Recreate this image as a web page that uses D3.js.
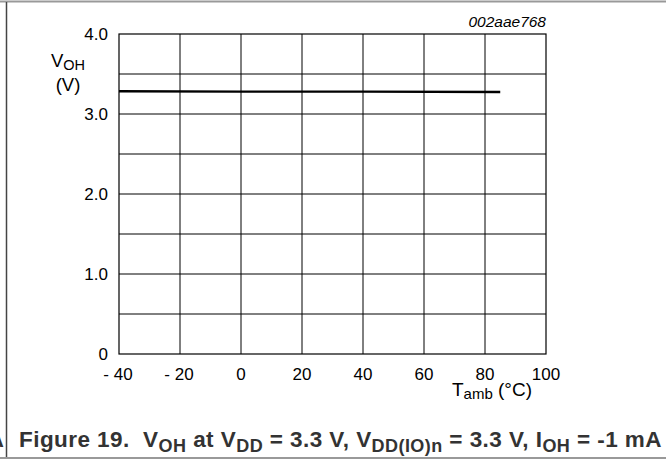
<!DOCTYPE html>
<html>
<head>
<meta charset="utf-8">
<script src="https://cdn.jsdelivr.net/npm/d3@7"></script>
<style>
  body { margin: 0; background: #fff; }
  svg { display: block; font-family: "Liberation Sans", Arial, sans-serif; }
</style>
</head>
<body>
<div id="chart"></div>
<script>
// curve: T_amb (deg C) vs V_OH (V)
var temps = [-40, 0, 40, 85];
var voh = [3.285, 3.28, 3.28, 3.275];
var xTicks = [-40, -20, 0, 20, 40, 60, 80, 100];
var yTicks = [0, 1.0, 2.0, 3.0, 4.0];
var yGrid = [0.5, 1.0, 1.5, 2.0, 2.5, 3.0, 3.5];

var width = 666, height = 460;
var pl = 119, pt = 34, pr = 546, pb = 354;

var svg = d3.select("#chart").append("svg")
    .attr("width", width)
    .attr("height", height);

var x = d3.scaleLinear().domain([-40, 100]).range([pl, pr]);
var y = d3.scaleLinear().domain([0, 4]).range([pb, pt]);

// page frame
svg.append("line").attr("x1", 0).attr("x2", width).attr("y1", 1.5).attr("y2", 1.5)
    .attr("stroke", "#999").attr("stroke-width", 2);
svg.append("line").attr("x1", 0).attr("x2", width).attr("y1", 458).attr("y2", 458)
    .attr("stroke", "#999").attr("stroke-width", 2);
svg.append("line").attr("x1", 6.5).attr("x2", 6.5).attr("y1", 2).attr("y2", 457)
    .attr("stroke", "#444").attr("stroke-width", 1.5);
svg.append("text").attr("x", -12).attr("y", 447)
    .attr("font-size", 22).attr("font-weight", "bold").attr("fill", "#333").text("A");

// grid
var g = svg.append("g");
g.selectAll(".vg").data(xTicks.slice(1, -1)).enter().append("line")
    .attr("x1", d => x(d)).attr("x2", d => x(d))
    .attr("y1", pt).attr("y2", pb)
    .attr("stroke", "#000").attr("stroke-width", 1);
g.selectAll(".hg").data(yGrid).enter().append("line")
    .attr("x1", pl).attr("x2", pr)
    .attr("y1", d => y(d)).attr("y2", d => y(d))
    .attr("stroke", "#000").attr("stroke-width", 1);
g.append("rect")
    .attr("x", pl).attr("y", pt)
    .attr("width", pr - pl).attr("height", pb - pt)
    .attr("fill", "none").attr("stroke", "#000").attr("stroke-width", 1.2);

// tick labels
svg.selectAll(".yt").data(yTicks).enter().append("text")
    .attr("x", 108).attr("y", d => y(d) + 6)
    .attr("text-anchor", "end").attr("font-size", 17)
    .text(d => d === 0 ? "0" : d3.format(".1f")(d));
svg.selectAll(".xt").data(xTicks).enter().append("text")
    .attr("x", d => x(d) - (d < 0 ? 1 : 0)).attr("y", 380)
    .attr("text-anchor", "middle").attr("font-size", 17)
    .text(d => d < 0 ? "- " + Math.abs(d) : String(d));

// axis titles
var yl = svg.append("text").attr("x", 68).attr("y", 67).attr("text-anchor", "middle").attr("font-size", 18.5);
yl.append("tspan").text("V");
yl.append("tspan").attr("font-size", 14.5).attr("dy", 3).text("OH");
svg.append("text").attr("x", 68).attr("y", 91).attr("text-anchor", "middle").attr("font-size", 18.5).text("(V)");

var xl = svg.append("text").attr("x", 492).attr("y", 396).attr("text-anchor", "middle").attr("font-size", 19);
xl.append("tspan").text("T");
xl.append("tspan").attr("font-size", 15).attr("dy", 3).text("amb");
xl.append("tspan").attr("dy", -3).text(" (°C)");

svg.append("text").attr("x", pr).attr("y", 27)
    .attr("text-anchor", "end").attr("font-size", 15.5).attr("font-style", "italic")
    .text("002aae768");

// curve
var line = d3.line().x(d => x(d)).y((d, i) => y(voh[i]));
svg.append("path").datum(temps)
    .attr("d", line)
    .attr("fill", "none").attr("stroke", "#000").attr("stroke-width", 2.4);

// caption
var cap = svg.append("text").attr("x", 19).attr("y", 447)
    .attr("font-size", 22.5).attr("font-weight", "bold").attr("fill", "#333")
    .style("white-space", "pre");
cap.append("tspan").text("Figure 19.  V");
cap.append("tspan").attr("font-size", 18).attr("dy", 5).text("OH");
cap.append("tspan").attr("dy", -5).text(" at V");
cap.append("tspan").attr("font-size", 18).attr("dy", 5).text("DD");
cap.append("tspan").attr("dy", -5).text(" = 3.3 V, V");
cap.append("tspan").attr("font-size", 18).attr("dy", 5).text("DD(IO)n");
cap.append("tspan").attr("dy", -5).text(" = 3.3 V, I");
cap.append("tspan").attr("font-size", 18).attr("dy", 5).text("OH");
cap.append("tspan").attr("dy", -5).text(" = -1 mA");

// stretch caption to the span it has in the figure (19 .. 662)
var capLen = cap.node().getComputedTextLength();
var nChars = cap.text().length;
cap.attr("letter-spacing", (643 - capLen) / nChars);
</script>
</body>
</html>
